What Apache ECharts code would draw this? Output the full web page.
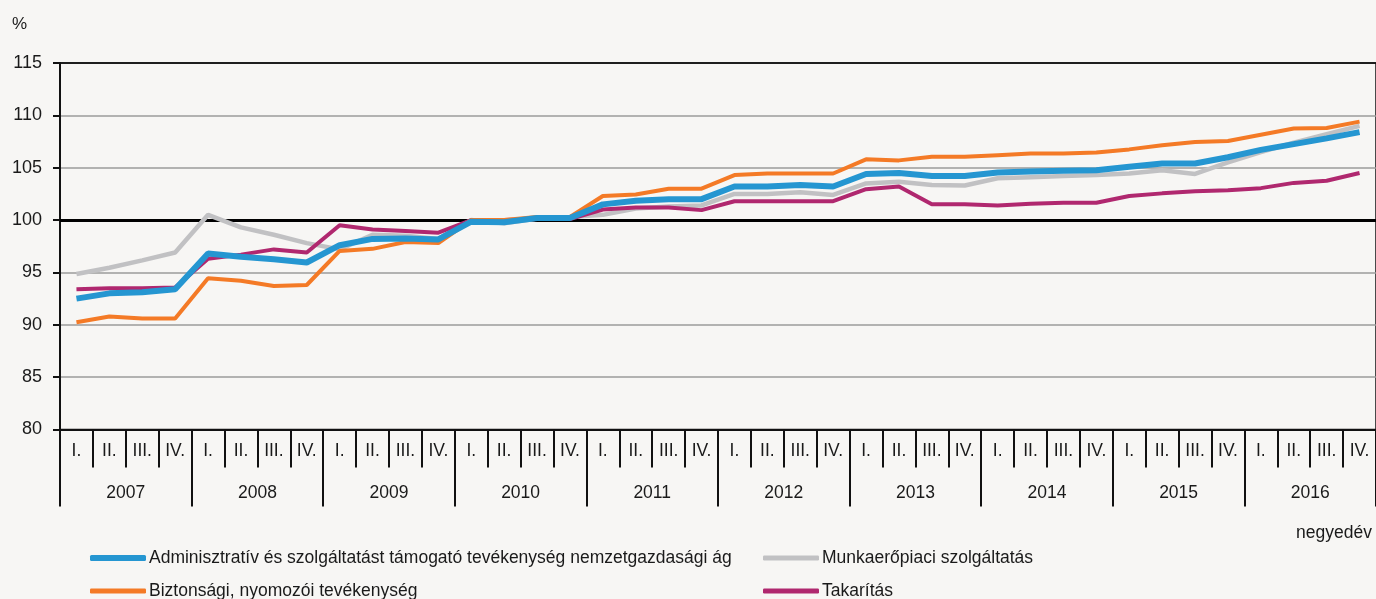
<!DOCTYPE html>
<html>
<head>
<meta charset="utf-8">
<script src="https://cdn.jsdelivr.net/npm/echarts@6/dist/echarts.min.js"></script>
<style>
html,body{margin:0;padding:0;background:#f7f6f4;}
#c{width:1376px;height:599px;}
</style>
</head>
<body>
<div id="c"></div>
<script>
var quarterLabels = ['I.','II.','III.','IV.'];
var years = ['2007','2008','2009','2010','2011','2012','2013','2014','2015','2016'];
var quarters = [];
years.forEach(function(){ quarterLabels.forEach(function(q){ quarters.push(q); }); });

var yTicks = [80, 85, 90, 95, 100, 105, 110, 115];

var nameAdmin = 'Adminisztratív és szolgáltatást támogató tevékenység nemzetgazdasági ág';
var nameMunka = 'Munkaerőpiaci szolgáltatás';
var nameBizt = 'Biztonsági, nyomozói tevékenység';
var nameTakar = 'Takarítás';

var admin = [92.5, 93.0, 93.1, 93.4, 96.8, 96.5, 96.25, 95.95, 97.6, 98.2, 98.25, 98.15,
  99.85, 99.8, 100.2, 100.2, 101.5, 101.85, 102.0, 102.0, 103.2, 103.2, 103.35, 103.2,
  104.4, 104.5, 104.2, 104.2, 104.55, 104.65, 104.7, 104.75, 105.1, 105.4, 105.4, 106.0,
  106.7, 107.25, 107.8, 108.4];
var munka = [94.85, 95.45, 96.15, 96.9, 100.5, 99.3, 98.6, 97.8, 97.2, 98.6, 98.5, 98.2,
  100.0, 99.7, 100.15, 100.3, 100.5, 101.1, 101.3, 101.4, 102.5, 102.5, 102.65, 102.4,
  103.5, 103.65, 103.35, 103.3, 104.0, 104.1, 104.2, 104.3, 104.45, 104.75, 104.4, 105.5,
  106.5, 107.4, 108.2, 109.0];
var bizt = [90.25, 90.8, 90.6, 90.6, 94.45, 94.2, 93.7, 93.8, 97.05, 97.25, 97.9, 97.8,
  100.0, 100.0, 100.3, 100.3, 102.3, 102.45, 103.0, 103.0, 104.3, 104.45, 104.45, 104.45,
  105.8, 105.7, 106.05, 106.05, 106.2, 106.35, 106.35, 106.45, 106.75, 107.15, 107.45, 107.55,
  108.15, 108.75, 108.8, 109.4];
var takar = [93.4, 93.5, 93.5, 93.55, 96.3, 96.7, 97.2, 96.9, 99.5, 99.1, 98.95, 98.8,
  100.0, 100.0, 100.1, 100.1, 101.0, 101.2, 101.2, 100.95, 101.8, 101.8, 101.8, 101.8,
  102.95, 103.2, 101.5, 101.5, 101.4, 101.55, 101.65, 101.65, 102.3, 102.55, 102.75, 102.85,
  103.05, 103.55, 103.75, 104.5];

var FONT = '"Liberation Sans", Arial, sans-serif';
var TXT = '#1a1a1a';

function legendItem(name, left, top, h) {
  return {data: [name], left: left, top: top, itemWidth: 56, itemHeight: h, icon: 'roundRect',
    selectedMode: false,
    textStyle: {fontFamily: FONT, fontSize: 17.5, color: TXT, padding: [0, 0, 0, -2]}};
}

var gridColors = yTicks.map(function(v, i){ return i === yTicks.length - 1 ? '#111' : '#9b9b9b'; });

var chart = echarts.init(document.getElementById('c'), null, {renderer: 'canvas'});
chart.setOption({
  backgroundColor: '#f7f6f4',
  animation: false,
  textStyle: {fontFamily: FONT},
  grid: {left: 60, right: 0, top: 63, bottom: 169.5, show: true, borderColor: '#111', borderWidth: 1.5, backgroundColor: 'transparent'},
  graphic: [
    {type: 'text', left: 12, top: 16, style: {text: '%', font: '17px ' + FONT, fill: TXT}},
    {type: 'text', right: 4, top: 524, style: {text: 'negyedév', font: '17.5px ' + FONT, fill: TXT}}
  ],
  legend: [
    legendItem(nameAdmin, 85, 544, 6),
    legendItem(nameBizt, 85, 577, 5),
    legendItem(nameMunka, 758, 544, 5),
    legendItem(nameTakar, 758, 577, 5)
  ],
  xAxis: [
    {type: 'category', data: quarters, boundaryGap: true,
     axisLine: {show: true, lineStyle: {color: '#111', width: 2}},
     axisTick: {show: true, interval: 0, length: 38, lineStyle: {color: '#111', width: 2}},
     axisLabel: {interval: 0, margin: 13, fontFamily: FONT, fontSize: 17.5, color: TXT},
     splitLine: {show: false}},
    {type: 'category', data: years, boundaryGap: true, position: 'bottom',
     axisLine: {show: false},
     axisTick: {show: true, interval: 0, length: 77, lineStyle: {color: '#111', width: 2}},
     axisLabel: {interval: 0, margin: 55, fontFamily: FONT, fontSize: 17.5, color: TXT},
     splitLine: {show: false}}
  ],
  yAxis: {type: 'value', min: yTicks[0], max: yTicks[yTicks.length - 1], interval: 5,
    axisLine: {show: true, lineStyle: {color: '#111', width: 2}},
    axisTick: {show: true, length: 7, lineStyle: {color: '#111', width: 2}},
    axisLabel: {margin: 18, fontFamily: FONT, fontSize: 18, color: TXT},
    splitLine: {show: true, lineStyle: {color: gridColors, width: 1.5}}},
  series: [
    {name: nameMunka, type: 'line', data: munka, symbol: 'none', z: 2,
     lineStyle: {color: '#c1c1c3', width: 4.5}, itemStyle: {color: '#c1c1c3'}},
    {name: nameTakar, type: 'line', data: takar, symbol: 'none', z: 3,
     lineStyle: {color: '#b0286f', width: 4}, itemStyle: {color: '#b0286f'}},
    {name: nameBizt, type: 'line', data: bizt, symbol: 'none', z: 4,
     lineStyle: {color: '#f47a26', width: 4}, itemStyle: {color: '#f47a26'}},
    {name: nameAdmin, type: 'line', data: admin, symbol: 'none', z: 5,
     lineStyle: {color: '#2596d1', width: 6}, itemStyle: {color: '#2596d1'},
     markLine: {silent: true, symbol: 'none', label: {show: false}, z: 1,
       lineStyle: {color: '#000', width: 3, type: 'solid'}, data: [{yAxis: 100}]}}
  ]
});
</script>
</body>
</html>
